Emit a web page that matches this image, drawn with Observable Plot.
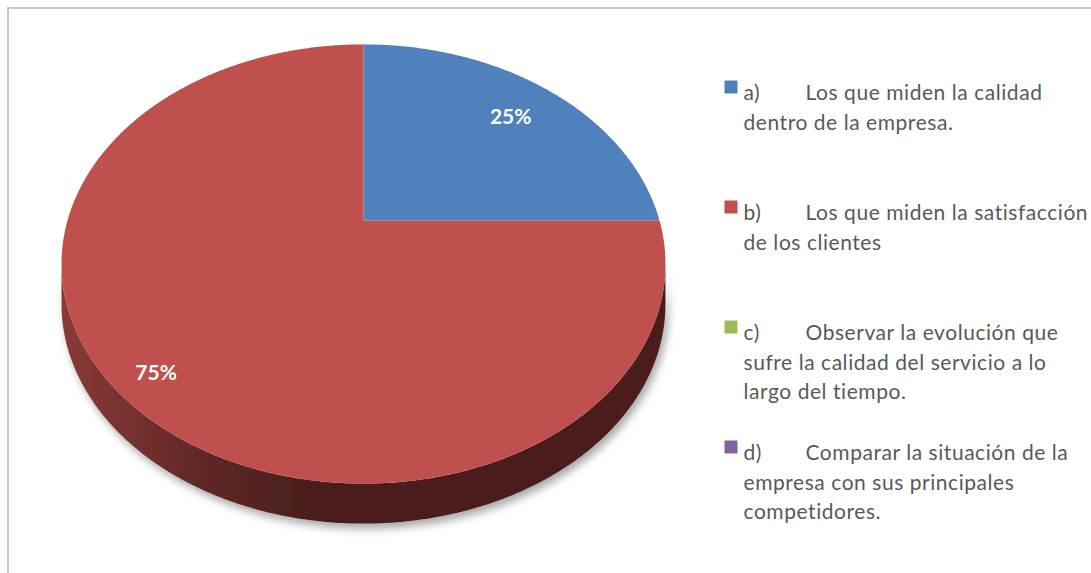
<!DOCTYPE html>
<html>
<head>
<meta charset="utf-8">
<script src="https://cdn.jsdelivr.net/npm/d3@7"></script>
<script src="https://cdn.jsdelivr.net/npm/@observablehq/plot@0.6"></script>
<style>
  html, body { margin: 0; padding: 0; background: #fff; overflow: hidden; }
  #wrap { position: relative; width: 1091px; height: 573px; overflow: hidden; }
  #border { position: absolute; left: 7px; top: 7px; width: 1200px; height: 700px;
            border: 2px solid #c8c8c8; box-sizing: border-box; }
  #chart { position: absolute; left: 0; top: 0; }
  .legend-text text { letter-spacing: 0.55px; }
</style>
</head>
<body>
<div id="wrap"><div id="border"></div><div id="chart"></div></div>
<script>
// ---- data ----
const categories = ["a)", "b)", "c)", "d)"];
const values = [25, 75, 0, 0];
const percentLabels = ["25%", "75%", "0%", "0%"];
const legendLines = [
  ["Los que miden la calidad", "dentro de la empresa."],
  ["Los que miden la satisfacción", "de los clientes"],
  ["Observar la evolución que", "sufre la calidad del servicio a lo", "largo del tiempo."],
  ["Comparar la situación de la", "empresa con sus principales", "competidores."]
];
const palette = ["#4F81BD", "#C0504D", "#9BBB59", "#8064A2"];

// ---- layout (perspective 3D pie) ----
const W = 1091, H = 573;
const cx = 363, cy = 220;          // projected centre of pie
const A = 296, B = 211, C = 0.198; // perspective parameters
const DEPTH = 40;
const FONT = "Lato, 'Open Sans', sans-serif";

function proj(u, v) { // u: right, v: toward the back
  const w = 1 + C * v;
  return [cx + A * u / w, cy - B * v / w];
}
function arcPts(a0, a1) {
  const n = Math.max(2, Math.ceil((a1 - a0) / (2 * Math.PI) * 720) + 1);
  const pts = [];
  for (let i = 0; i < n; i++) {
    const t = a0 + (a1 - a0) * i / (n - 1);
    pts.push(proj(Math.sin(t), Math.cos(t)));
  }
  return pts;
}

const total = d3.sum(values);
let acc = 0;
const slices = categories.map((c, i) => {
  const a0 = acc / total * 2 * Math.PI;
  acc += values[i];
  const a1 = acc / total * 2 * Math.PI;
  return {cat: c, value: values[i], a0, a1, label: percentLabels[i], i};
});

const thR = Math.acos(-C), thL = 2 * Math.PI - thR;

const topPolys = [], sidePolys = [];
for (const s of slices) {
  if (s.value <= 0) continue;
  const arc = arcPts(s.a0, s.a1);
  const [px, py] = proj(0, 0);
  [[px, py], ...arc].forEach(([x, y]) => topPolys.push({cat: s.cat, x, y}));
  const s0 = Math.max(s.a0, thR), s1 = Math.min(s.a1, thL);
  if (s1 > s0) {
    const a = arcPts(s0, s1);
    const ring = [...a, ...a.slice().reverse().map(([x, y]) => [x, y + DEPTH])];
    ring.forEach(([x, y]) => sidePolys.push({cat: s.cat, x, y}));
  }
}

const labelRadius = {0.25: 0.78, 0.75: 0.87};
const labels = slices.filter(s => s.value > 0).map(s => {
  const f = s.value / total;
  const r = labelRadius[f] ?? 0.8;
  const m = (s.a0 + s.a1) / 2;
  const [x, y] = proj(r * Math.sin(m), r * Math.cos(m));
  return {x, y: y + (f > 0.5 ? 5 : 2), text: s.label};
});

// legend
const LX = 743, LX2 = 805, LTOP = 93, LGAP = 120, LH = 29.5;
const legendText = [], legendSw = [];
categories.forEach((c, i) => {
  const y0 = LTOP + i * LGAP;
  legendSw.push({cat: c, x: 730.5, y: y0 - 6.5});
  legendText.push({x: LX, y: y0, text: c});
  legendLines[i].forEach((t, j) => {
    legendText.push({x: j === 0 ? LX2 : LX, y: y0 + j * LH, text: t});
  });
});

const sideCats = Array.from(new Set(sidePolys.map(d => d.cat)));

const plot = Plot.plot({
  width: W, height: H, margin: 0,
  x: {domain: [0, W], range: [0, W], axis: null},
  y: {domain: [0, H], range: [0, H], axis: null},
  color: {domain: categories, range: palette},
  style: {background: "transparent", overflow: "visible"},
  marks: [
    ...sideCats.map(c => Plot.line(sidePolys.filter(d => d.cat === c), {
      x: "x", y: "y", fill: `url(#side-${categories.indexOf(c)})`, stroke: "none",
      curve: "linear-closed", className: "pie-side"
    })),
    Plot.line(topPolys, {x: "x", y: "y", z: "cat", fill: "cat", stroke: "none", curve: "linear-closed"}),
    Plot.text(labels, {x: "x", y: "y", text: "text", fill: "white", fontWeight: "bold",
      fontSize: 21, fontFamily: FONT}),
    Plot.dot(legendSw, {x: "x", y: "y", fill: "cat", symbol: "square", r: 13 / Math.sqrt(Math.PI), stroke: "none"}),
    Plot.text(legendText, {x: "x", y: "y", text: "text", textAnchor: "start", fill: "#595959",
      fontSize: 21, fontFamily: FONT, className: "legend-text"})
  ]
});

// gradients + shadow
const svg = d3.select(plot);
const defs = svg.insert("defs", ":first-child");
const f = defs.append("filter").attr("id", "pieShadow")
  .attr("x", "-10%").attr("y", "-10%").attr("width", "120%").attr("height", "140%");
f.append("feDropShadow").attr("dx", 3).attr("dy", 5).attr("stdDeviation", 4)
  .attr("flood-color", "#000").attr("flood-opacity", 0.35);
palette.forEach((col, i) => {
  const g = defs.append("linearGradient").attr("id", `side-${i}`)
    .attr("gradientUnits", "userSpaceOnUse")
    .attr("x1", cx - 302).attr("x2", cx + 302).attr("y1", 0).attr("y2", 0);
  const base = d3.rgb(col);
  const k = t => d3.rgb(base.r * t, base.g * t, base.b * t).formatHex();
  [[0, 0.72], [0.23, 0.5], [0.4, 0.39], [1, 0.39]].forEach(([o, t]) =>
    g.append("stop").attr("offset", o).attr("stop-color", k(t)));
});
svg.selectAll(".pie-side").attr("filter", "url(#pieShadow)");

document.getElementById("chart").appendChild(plot);
</script>
</body>
</html>
